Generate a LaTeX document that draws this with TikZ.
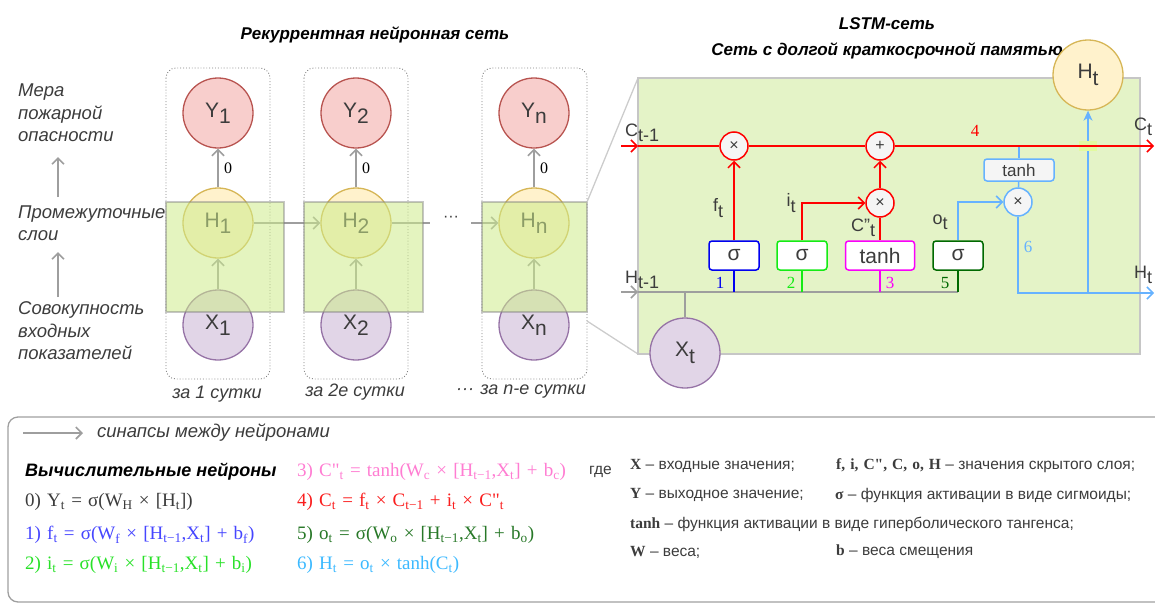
\documentclass[tikz,border=0pt]{standalone}
\usepackage{fontspec}
\setmainfont{Liberation Sans}
\newfontfamily\fmfont[WordSpace=1.3]{Liberation Serif}
\usetikzlibrary{arrows.meta}

\definecolor{synGray}{RGB}{158,158,158}
\definecolor{txtGray}{RGB}{60,60,60}
\definecolor{yFill}{RGB}{248,206,204}
\definecolor{yLine}{RGB}{184,84,80}
\definecolor{hFill}{RGB}{255,242,204}
\definecolor{hLine}{RGB}{214,182,86}
\definecolor{xFill}{RGB}{225,213,231}
\definecolor{xLine}{RGB}{150,115,166}
\definecolor{limeFill}{RGB}{205,235,139}
\definecolor{cellFill}{RGB}{228,243,199}
\definecolor{patchLime}{RGB}{226,250,160}
\definecolor{gBlue}{RGB}{0,0,240}
\definecolor{gGreen}{RGB}{20,235,20}
\definecolor{gMag}{RGB}{250,0,250}
\definecolor{gDark}{RGB}{0,105,0}
\definecolor{oBlue}{RGB}{102,178,255}
\definecolor{fmBlue}{RGB}{70,70,255}
\definecolor{fmGreen}{RGB}{40,225,40}
\definecolor{fmPink}{RGB}{255,125,210}
\definecolor{fmRed}{RGB}{250,30,30}
\definecolor{fmDark}{RGB}{40,120,40}
\definecolor{fmSky}{RGB}{60,185,255}

\newcommand{\lo}[1]{\raisebox{-0.3em}{#1}}
\newcommand{\sbs}[1]{\textsubscript{#1}}

\begin{document}
\begin{tikzpicture}[x=1pt, y=-1pt,
    openTip/.tip={Straight Barb[length=6pt,width=12pt]},
    neuron/.style={circle, minimum size=70pt, inner sep=0pt, line width=1.3pt, text=txtGray, font=\fontsize{21}{24}\selectfont},
    yn/.style={neuron, draw=yLine, fill=yFill},
    hn/.style={neuron, draw=hLine, fill=hFill},
    xn/.style={neuron, draw=xLine, fill=xFill},
    daybox/.style={draw=gray, dotted, line width=0.9pt, rounded corners=10pt},
    hidbox/.style={fill=limeFill, fill opacity=0.55, draw=gray, draw opacity=0.45, line width=1.5pt},
    syn/.style={draw=synGray, line width=1.6pt, -openTip},
    synline/.style={draw=synGray, line width=1.6pt},
    zero/.style={font=\fmfont\fontsize{16}{16}\selectfont, text=black},
    side/.style={anchor=west, inner sep=0pt, align=left, text=txtGray, font=\itshape\fontsize{18.5}{22.5}\selectfont},
    day/.style={text=txtGray, font=\itshape\fontsize{18}{18}\selectfont},
    title/.style={align=center, font=\bfseries\itshape\fontsize{17}{26}\selectfont},
    cell/.style={fill=cellFill, draw=gray!45, line width=1.5pt},
    gate/.style={rectangle, rounded corners=3pt, fill=white, line width=1.5pt, minimum width=50pt, minimum height=29pt, inner sep=0pt, text=txtGray, font=\fontsize{21}{21}\selectfont},
    op/.style={circle, minimum size=28pt, inner sep=0pt, fill=gray!8, line width=1.5pt, text=txtGray, font=\fontsize{16}{16}\selectfont},
    lbl/.style={inner sep=0pt, text=txtGray, font=\fontsize{18}{18}\selectfont},
    num/.style={inner sep=0pt, font=\fmfont\fontsize{17}{17}\selectfont},
    redln/.style={draw=red, line width=1.5pt},
    skyln/.style={draw=oBlue, line width=1.5pt},
    grayln/.style={draw=synGray, line width=1.5pt},
    fm/.style={anchor=west, inner sep=0pt, font=\fmfont\fontsize{19}{19}\selectfont},
    def/.style={anchor=west, inner sep=0pt, text=txtGray, font=\fontsize{15.5}{15.5}\selectfont}]

    \useasboundingbox (0,0) rectangle (1155,605);

    \node[title] (rnnT) at (375,35) {Рекуррентная нейронная сеть};
    \node[title] (lstmT) at (887,38) {LSTM-сеть\\Сеть с долгой краткосрочной памятью};

    \node[side] (meraT) at (18,113) {Мера\\пожарной\\опасности};
    \node[side] (hidT) at (18,223) {Промежуточные\\слои};
    \node[side] (inT) at (18,331) {Совокупность\\входных\\показателей};
    \coordinate (upA1) at (58,197);
    \coordinate (upA2) at (58,157);
    \coordinate (upB1) at (58,297);
    \coordinate (upB2) at (58,252);
    \draw[syn] (upA1) -- (upA2);
    \draw[syn] (upB1) -- (upB2);

    \draw[daybox] (166,68) rectangle (270,379);
    \draw[daybox] (304,68) rectangle (408,379);
    \draw[daybox] (482,68) rectangle (587,379);

    \node[yn] (y1) at (218,113) {Y\lo{1}};
    \node[hn] (h1) at (218,223) {H\lo{1}};
    \node[xn] (x1) at (218,325) {X\lo{1}};
    \node[yn] (y2) at (356,113) {Y\lo{2}};
    \node[hn] (h2) at (356,223) {H\lo{2}};
    \node[xn] (x2) at (356,325) {X\lo{2}};
    \node[yn] (yn) at (534,113) {Y\lo{n}};
    \node[hn] (hn) at (534,223) {H\lo{n}};
    \node[xn] (xn) at (534,325) {X\lo{n}};

    \draw[syn] (h1) -- node[zero, right=2pt] {0} (y1);
    \draw[syn] (h2) -- node[zero, right=2pt] {0} (y2);
    \draw[syn] (hn) -- node[zero, right=2pt] {0} (yn);
    \draw[syn] (x1) -- (h1);
    \draw[syn] (x2) -- (h2);
    \draw[syn] (xn) -- (hn);
    \draw[syn] (h1) -- (h2);
    \coordinate (gapL) at (430,223);
    \coordinate (gapR) at (471,223);
    \node[text=txtGray, font=\fontsize{16}{16}\selectfont] (gap) at (451,219) {···};
    \draw[synline] (h2) -- (gapL);
    \draw[syn] (gapR) -- (hn);

    \draw[hidbox] (166,202) rectangle (284,312);
    \draw[hidbox] (304,202) rectangle (423,312);
    \draw[hidbox] (482,202) rectangle (587,312);

    \node[day] (d1) at (217,394) {за 1 сутки};
    \node[day] (d2) at (355,392) {за 2е сутки};
    \node[day] (ddots) at (465,392) {···};
    \node[day] (dn) at (533,392) {за n-е сутки};

    % LSTM cell
    \coordinate (zt) at (587,202);
    \coordinate (zb) at (587,321);
    \coordinate (ctl) at (638,78);
    \coordinate (cbl) at (638,354);
    \draw[draw=gray!40, line width=1.3pt] (zt) -- (ctl);
    \draw[draw=gray!40, line width=1.3pt] (zb) -- (cbl);
    \draw[cell] (ctl) rectangle (1140,354);

    \node[hn] (ht) at (1088,75) {H\lo{t}};
    \node[xn] (xt) at (685,353) {X\lo{t}};

    \node[op, draw=red] (fx) at (734,146) {×};
    \node[op, draw=red] (plus) at (880,146) {+};
    \node[op, draw=red] (ix) at (880,203) {×};
    \node[op, draw=oBlue] (ox) at (1018,202) {×};
    \node[gate, draw=gBlue] (sig1) at (734,255.5) {σ};
    \node[gate, draw=gGreen] (sig2) at (802,255.5) {σ};
    \node[gate, draw=gMag, minimum width=69pt] (tnh) at (880,255.5) {tanh};
    \node[gate, draw=gDark] (sig5) at (958,255.5) {σ};
    \node[gate, draw=oBlue, fill=gray!8, minimum width=70pt, minimum height=22pt, font=\fontsize{17}{17}\selectfont] (tnhb) at (1019,170) {tanh};

    \coordinate (cin) at (621,146);
    \coordinate (cedge) at (638,146);
    \coordinate (cout) at (1154,146);
    \coordinate (ctap) at (1019,146);
    \coordinate (hin) at (621,292);
    \coordinate (hedge) at (638,292);
    \coordinate (hout) at (1154,293);
    \coordinate (hsplit) at (1088,293);

    \draw[skyln, -openTip] (sig5) |- (ox);
    \draw[skyln] (ctap) -- (tnhb);
    \draw[skyln] (tnhb) -- (ox);
    \draw[skyln, -openTip] (ox) |- (hout);
    \draw[skyln, -{Stealth[length=10pt,width=9pt,inset=3pt]}] (hsplit) -- (ht);
    \fill[patchLime] (1079,141) rectangle (1097,151);

    \draw[redln, -openTip] (cin) -- (cedge);
    \draw[redln] (cedge) -- (fx);
    \draw[redln] (fx) -- (plus);
    \draw[redln, -openTip] (plus) -- (cout);
    \draw[redln, -openTip] (sig1) -- (fx);
    \draw[redln, -openTip] (sig2) |- (ix);
    \draw[redln] (tnh) -- (ix);
    \draw[redln, -openTip] (ix) -- (plus);

    \draw[grayln, -openTip] (hin) -- (hedge);
    \draw[grayln] (hedge) -- (sig5 |- hin);
    \draw[grayln] (xt |- hin) -- (xt);
    \draw[gBlue, line width=1.5pt] (sig1) -- (sig1 |- hin);
    \draw[gGreen, line width=1.5pt] (sig2) -- (sig2 |- hin);
    \draw[gMag, line width=1.5pt] (tnh) -- (tnh |- hin);
    \draw[gDark, line width=1.5pt] (sig5) -- (sig5 |- hin);

    \node[lbl] (lc1) at (642,133) {C\lo{t-1}};
    \node[lbl] (lh1) at (642,280) {H\lo{t-1}};
    \node[lbl] (lct) at (1143,127) {C\lo{t}};
    \node[lbl] (lht) at (1143,275) {H\lo{t}};
    \node[lbl] (lf) at (718,208) {f\lo{t}};
    \node[lbl] (li) at (791,203) {i\lo{t}};
    \node[lbl] (lcc) at (863,228) {C"\lo{t}};
    \node[lbl] (lo) at (940,222) {o\lo{t}};

    \node[num, text=red] (n4) at (975,131) {4};
    \node[num, text=gBlue] (n1) at (720,283) {1};
    \node[num, text=gGreen] (n2) at (791,283) {2};
    \node[num, text=gMag] (n3) at (890,283) {3};
    \node[num, text=gDark] (n5) at (945,283) {5};
    \node[num, text=oBlue] (n6) at (1028,247) {6};

    % legend
    \draw[draw=gray!75, line width=1.3pt, rounded corners=10pt] (1155,417) -- (8,417) -- (8,602) -- (1155,602);
    \coordinate (lgA) at (23,433);
    \coordinate (lgB) at (83,433);
    \draw[syn] (lgA) -- (lgB);
    \node[side] (synT) at (97,433) {синапсы между нейронами};
    \node[anchor=west, inner sep=0pt, font=\bfseries\itshape\fontsize{18}{18}\selectfont] (compT) at (25,472) {Вычислительные нейроны};

    \node[fm, text=txtGray] (f0) at (25,502) {0) Y\sbs{t} = σ(W\sbs{H} × [H\sbs{t}])};
    \node[fm, text=fmBlue] (f1) at (25,535) {1) f\sbs{t} = σ(W\sbs{f} × [H\sbs{t−1},X\sbs{t}] + b\sbs{f})};
    \node[fm, text=fmGreen] (f2) at (25,565) {2) i\sbs{t} = σ(W\sbs{i} × [H\sbs{t−1},X\sbs{t}] + b\sbs{i})};
    \node[fm, text=fmPink] (f3) at (297,472) {3) C"\sbs{t} = tanh(W\sbs{c} × [H\sbs{t−1},X\sbs{t}] + b\sbs{c})};
    \node[fm, text=fmRed] (f4) at (297,502) {4) C\sbs{t} = f\sbs{t} × C\sbs{t−1} + i\sbs{t} × C"\sbs{t}};
    \node[fm, text=fmDark] (f5) at (297,535) {5) o\sbs{t} = σ(W\sbs{o} × [H\sbs{t−1},X\sbs{t}] + b\sbs{o})};
    \node[fm, text=fmSky] (f6) at (297,565) {6) H\sbs{t} = o\sbs{t} × tanh(C\sbs{t})};
    \node[def] (gde) at (589,472) {где};

    \node[def] (dX) at (630,466) {{\fmfont\bfseries X} – входные значения;};
    \node[def] (dF) at (836,466) {{\fmfont\bfseries f, i, C", C, o, H} – значения скрытого слоя;};
    \node[def] (dY) at (630,495) {{\fmfont\bfseries Y} – выходное значение;};
    \node[def] (dS) at (835,495) {{\fmfont\bfseries σ} – функция активации в виде сигмоиды;};
    \node[def] (dT) at (630,524) {{\fmfont\bfseries tanh} – функция активации в виде гиперболического тангенса;};
    \node[def] (dW) at (630,552) {{\fmfont\bfseries W} – веса;};
    \node[def] (dB) at (836,552) {{\fmfont\bfseries b} – веса смещения};
\end{tikzpicture}
\end{document}
